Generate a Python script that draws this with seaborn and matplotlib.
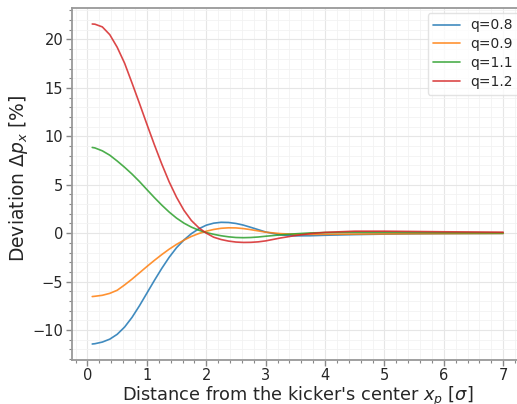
import numpy as np
import pandas as pd
import matplotlib
matplotlib.use("Agg")
import matplotlib.pyplot as plt
from matplotlib.ticker import AutoMinorLocator
import seaborn as sns

# Transverse position, in units of sigma
x_pos = [0.08, 0.125, 0.25, 0.375, 0.5, 0.625, 0.75, 0.875, 1.0, 1.125, 1.25, 1.375,
         1.5, 1.625, 1.75, 1.875, 2.0, 2.125, 2.25, 2.375, 2.5, 2.625, 2.75, 2.875,
         3.0, 3.25, 3.5, 3.75, 4.0, 4.5, 5.0, 5.5, 6.0, 6.5, 7.0]

# Momentum deviation [%] for each kicker strength ratio q
dev_q08 = [-11.45, -11.42, -11.25, -10.95, -10.45, -9.7, -8.7, -7.5, -6.2, -4.9, -3.65, -2.5,
           -1.5, -0.7, -0.05, 0.45, 0.82, 1.03, 1.12, 1.1, 1.0, 0.83, 0.6, 0.36,
           0.12, -0.18, -0.28, -0.27, -0.22, -0.15, -0.1, -0.07, -0.05, -0.04, -0.03]
dev_q09 = [-6.55, -6.52, -6.42, -6.22, -5.9, -5.35, -4.75, -4.1, -3.45, -2.82, -2.22, -1.66,
           -1.16, -0.72, -0.34, -0.04, 0.2, 0.38, 0.5, 0.55, 0.54, 0.47, 0.36, 0.23,
           0.1, -0.05, -0.12, -0.13, -0.12, -0.1, -0.08, -0.06, -0.05, -0.04, -0.03]
dev_q11 = [8.85, 8.8, 8.5, 8.05, 7.45, 6.8, 6.1, 5.33, 4.5, 3.68, 2.9, 2.18,
           1.55, 1.03, 0.62, 0.3, 0.06, -0.12, -0.27, -0.38, -0.45, -0.47, -0.45, -0.4,
           -0.32, -0.18, -0.07, 0.02, 0.06, 0.09, 0.09, 0.07, 0.05, 0.04, 0.03]
dev_q12 = [21.6, 21.58, 21.3, 20.5, 19.2, 17.55, 15.5, 13.4, 11.25, 9.15, 7.15, 5.3,
           3.7, 2.35, 1.3, 0.55, 0.0, -0.42, -0.66, -0.82, -0.92, -0.96, -0.95, -0.9,
           -0.8, -0.5, -0.25, -0.05, 0.08, 0.2, 0.2, 0.17, 0.14, 0.12, 0.1]

q_labels = ["q=0.8", "q=0.9", "q=1.1", "q=1.2"]
series = [dev_q08, dev_q09, dev_q11, dev_q12]

df = pd.concat(
    [pd.DataFrame({"x": x_pos, "dev": s, "q": lab}) for s, lab in zip(series, q_labels)],
    ignore_index=True,
)

sns.set_theme(style="white")
plt.rcParams["font.family"] = ["DejaVu Sans"]

fig = plt.figure(figsize=(5.17, 4.04), dpi=100)
ax = fig.add_axes([71.7 / 517, 44 / 404, 452 / 517, 352 / 404])

sns.lineplot(data=df, x="x", y="dev", hue="q", palette="tab10",
             linewidth=1.2, alpha=0.85, ax=ax)

ax.margins(x=0.05, y=0.05)
ax.xaxis.set_minor_locator(AutoMinorLocator(5))
ax.yaxis.set_minor_locator(AutoMinorLocator(5))
ax.grid(which="major", color="#e6e6e6", linewidth=0.8)
ax.grid(which="minor", color="#f2f2f2", linewidth=0.6)
ax.set_axisbelow(True)

for side in ["left", "bottom", "top", "right"]:
    ax.spines[side].set_color("#999999")
    ax.spines[side].set_linewidth(1.3)

ax.tick_params(which="major", direction="out", length=4, width=1, color="#888888",
               labelsize=10.5, bottom=True, left=True, pad=2)
ax.tick_params(which="minor", direction="out", length=2.5, width=0.8, color="#888888",
               bottom=True, left=True)

ax.set_xlabel(r"Distance from the kicker's center $x_p$ [$\sigma$]", fontsize=12.8,
              labelpad=1)
ax.set_ylabel(r"Deviation $\Delta p_x$ [%]", fontsize=13.5, labelpad=2)
ax.yaxis.label.set_y(0.515)

leg = ax.legend(loc="upper right", fontsize=10, frameon=True, handlelength=1.9,
                labelspacing=0.35, borderaxespad=0.35)
leg.get_frame().set_edgecolor("#dddddd")

fig.savefig("out.png", dpi=100)
